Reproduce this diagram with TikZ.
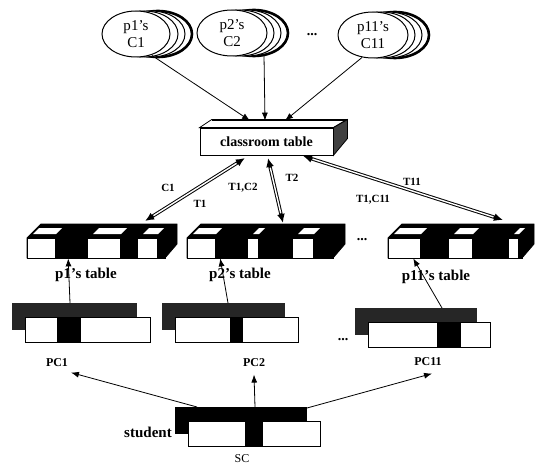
\documentclass[tikz,border=0pt]{standalone}
\usepackage{fontspec}
\setmainfont{Liberation Serif}
\usetikzlibrary{arrows.meta,shapes.geometric}

% draws a 3D table bar: front face from #1 to #2, then white cells #3 (list of a/b)
\newcommand\tablebar[4]{%
  \fill[black] (#1,238) -- (#1+14,224) -- (#2+12,224) -- (#2+12,244) -- (#2,258) -- (#1,258) -- cycle;
  \draw[black,line width=0.8pt] (#1,238) -- (#1+14,224) -- (#2+12,224) -- (#2+12,244) -- (#2,258) -- (#1,258) -- cycle;
  \node[draw,fill=black,inner sep=0pt,minimum width={#2-#1}, minimum height=20pt,anchor=north west] (#4) at (#1,238) {};
  \foreach \a/\b in {#3} {
    \fill[white] (\a+6,234) -- (\a+12,228) -- (\b+7,228) -- (\b+1,234) -- cycle;
    \draw[fill=white,line width=0.8pt] (\a,238) rectangle (\b,258);
  }
}
% draws a record box: shadow band, front frame, white cells
\newcommand\recbox[7]{%
  \fill[#7] (#1,#2) rectangle (#3-13,#2+27);
  \draw[fill=black,line width=0.8pt] (#1+13,#2+14) rectangle (#3,#2+39);
  \foreach \a/\b in {#4} {\draw[fill=white,line width=0.8pt] (\a,#2+14) rectangle (\b,#2+39);}
  \coordinate (#5) at (#6,#2);
}

\tikzset{
  oneway/.style={-{Latex[length=8pt,width=6pt]},line width=0.8pt},
  ring/.style={draw,fill=white,ellipse,minimum width=68pt,minimum height=46pt},
  front/.style={ring,line width=1pt,align=center,font=\fontsize{15}{17}\selectfont,inner sep=0pt},
  lab/.style={font=\bfseries\fontsize{11}{12}\selectfont},
  tlab/.style={font=\bfseries\fontsize{15}{17}\selectfont},
  pclab/.style={font=\bfseries\fontsize{12}{14}\selectfont},
  dots/.style={font=\bfseries\fontsize{14}{14}\selectfont}
}

\newcommand\twoway[2]{%
  \draw[line width=3.4pt,{Latex[length=9pt,width=8pt]}-{Latex[length=9pt,width=8pt]}] (#1) -- (#2);
  \draw[white,line width=1.4pt,shorten <=10pt,shorten >=10pt] (#1) -- (#2);
}

\begin{document}
\begin{tikzpicture}[x=1pt,y=-1pt]
\useasboundingbox[fill=white] (0,0) rectangle (548,468);

% ---- class schedules of each professor ----
\foreach \cx/\cy in {136/34, 232/33, 373/35} {
  \node[ring,line width=2.6pt] at (\cx+22,\cy) {};
  \node[ring,line width=1pt] at (\cx+15,\cy) {};
  \node[ring,line width=1pt] at (\cx+8,\cy) {};
}
\node[front] (c1) at (136,34) {p1's\\C1};
\node[front,minimum width=70pt] (c2) at (232,33) {p2's\\C2};
\node[front,minimum width=70pt] (c11) at (373,35) {p11's\\C11};
\node[dots] (cdots) at (312,35) {...};

% ---- classroom table ----
\node[draw,fill=white,line width=0.8pt,minimum width=133pt,minimum height=27pt,inner sep=0pt,
      font=\bfseries\fontsize{14}{16}\selectfont] (ct) at (266.5,141.5) {classroom table};
\draw[fill=white,line width=0.8pt] (ct.north west) -- ++(12,-8) -- ++(135,0) -- (ct.north east) -- cycle;
\draw[line width=1.6pt] (212,120) -- (347,120);
\draw[fill=black!75,line width=0.8pt] (ct.north east) -- ++(14,-8) -- ++(0,19) -- (ct.south east) -- cycle;

\draw[oneway] ([xshift=16pt,yshift=2pt]c1.south) -- ([xshift=-16.5pt,yshift=7pt]ct.north);
\draw[oneway] ([xshift=32pt,yshift=1pt]c2.south) -- ([xshift=-1.5pt,yshift=7pt]ct.north);
\draw[oneway] ([xshift=-11pt,yshift=1pt]c11.south) -- ([xshift=18.5pt,yshift=7pt]ct.north);

% ---- professors' tables ----
\tablebar{27}{165}{27/55, 87/120, 137/157}{b1}
\tablebar{187}{333}{187/215, 247/258, 292/313}{b2}
\tablebar{388}{522}{388/420, 448/472, 508/518}{b11}
\node[dots] (bdots) at (362,240) {...};

\node[tlab] (l1) at (86,275) {p1's table};
\node[tlab] (l2) at (240,275) {p2's table};
\node[tlab] (l11) at (436,277) {p11's table};

\coordinate (ct1) at (245,158);
\coordinate (ct2) at (268,158);
\coordinate (ct11) at (303,156);
\coordinate (bt1) at (145,221);
\coordinate (bt2) at (283,223);
\coordinate (bt11) at (503,220);
\twoway{ct1}{bt1}
\twoway{ct2}{bt2}
\twoway{ct11}{bt11}

\node[lab] at (168,188) {C1};
\node[lab] at (200,204) {T1};
\node[lab] at (243,188) {T1,C2};
\node[lab] at (292,178) {T2};
\node[lab] at (412,182) {T11};
\node[lab] at (373,200) {T1,C11};

% ---- computers' records ----
\recbox{12}{303}{150}{25/57, 80/150}{pc1}{70}{black!85}
\recbox{162}{303}{298}{175/230, 242/298}{pc2}{228}{black!85}
\recbox{355}{308}{490}{368/437, 460/490}{pc11}{442}{black!85}
\node[dots] (pdots) at (343,340) {...};

\draw[oneway] (pc1) -- ([xshift=-28pt]b1.south);
\draw[oneway] (pc2) -- ([xshift=-40pt]b2.south);
\draw[oneway] (pc11) -- ([xshift=-42pt]b11.south);

\node[pclab] (n1) at (57,363) {PC1};
\node[pclab] (n2) at (254,363) {PC2};
\node[pclab] (n11) at (428,362) {PC11};

% ---- student record ----
\recbox{175}{407}{320}{188/245, 262/320}{st}{255}{black}
\node[tlab] (sl) at (148,432) {student};
\node[pclab,font=\fontsize{12}{14}\selectfont] (sc) at (242,459) {SC};
\coordinate (stl) at (197,407);
\coordinate (str) at (307,408);
\draw[oneway] (st) -- ([yshift=-4pt]n2.south);
\draw[oneway] (stl) -- ([xshift=14pt,yshift=-2pt]n1.south);
\draw[oneway] (str) -- ([xshift=4pt,yshift=-4pt]n11.south);
\end{tikzpicture}
\end{document}
